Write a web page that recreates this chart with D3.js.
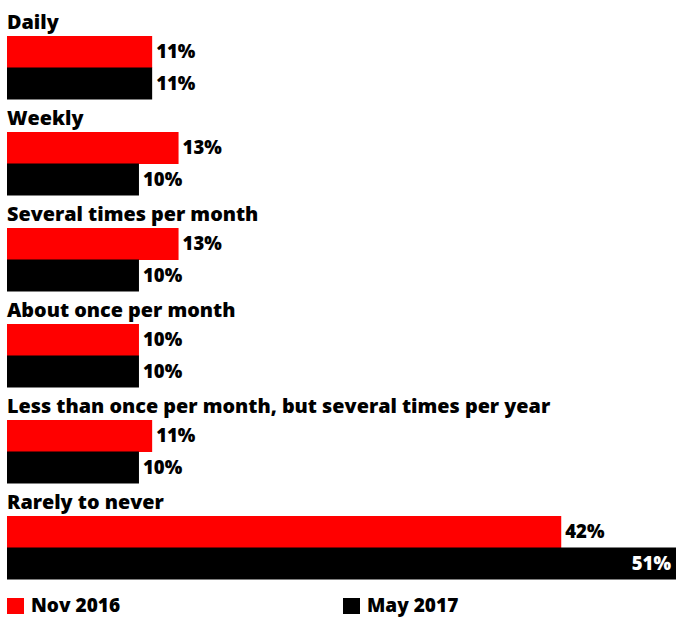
<!DOCTYPE html>
<html><head><meta charset="utf-8">
<script src="https://cdn.jsdelivr.net/npm/d3@7"></script>
<style>body{margin:0;background:#fff}svg{display:block}text{font-family:"Open Sans",sans-serif;font-weight:800}</style>
</head><body>
<svg id="c" width="676" height="617"></svg>
<script>
const categories = ["Daily","Weekly","Several times per month","About once per month","Less than once per month, but several times per year","Rarely to never"];
const nov2016 = [11,13,13,10,11,42];
const may2017 = [11,10,10,10,10,51];
const seriesNames = ["Nov 2016","May 2017"];
const colors = ["#ff0000","#000000"];

const svg = d3.select("#c");
const x = d3.scaleLinear().domain([0,51]).range([7,680]);
const y = d3.scaleBand().domain(categories).range([4,580]).paddingInner(0).paddingOuter(0);
const groupTop = 32;
const barH = 31.5;

const g = svg.selectAll("g.grp").data(categories).join("g")
  .attr("transform", d => `translate(0,${y(d)})`);

g.append("text").attr("x",7).attr("y",25).attr("font-size",19.8).attr("fill","#000").text(d=>d);

const series = [nov2016, may2017];
series.forEach((vals,si)=>{
  g.append("rect")
    .attr("x",x(0)).attr("y",(d,i)=>groupTop+si*barH)
    .attr("width",(d,i)=>x(vals[i])-x(0)).attr("height",barH+0.5)
    .attr("fill",colors[si]);
  g.append("text")
    .attr("font-size",18.5)
    .attr("dy","0.35em")
    .attr("y",groupTop+si*barH+barH/2)
    .attr("x",(d,i)=> x(vals[i])>600 ? 671 : x(vals[i])+4)
    .attr("text-anchor",(d,i)=> x(vals[i])>600 ? "end" : "start")
    .attr("fill",(d,i)=> x(vals[i])>600 ? "#fff" : "#000")
    .text((d,i)=>vals[i]+"%");
});

const legendX = [7,343];
const lg = svg.selectAll("g.leg").data(seriesNames).join("g")
  .attr("transform",(d,i)=>`translate(${legendX[i]},598)`);
lg.append("rect").attr("width",17).attr("height",16).attr("fill",(d,i)=>colors[i]);
lg.append("text").attr("x",24).attr("y",14).attr("font-size",19).text(d=>d);
</script>
</body></html>
